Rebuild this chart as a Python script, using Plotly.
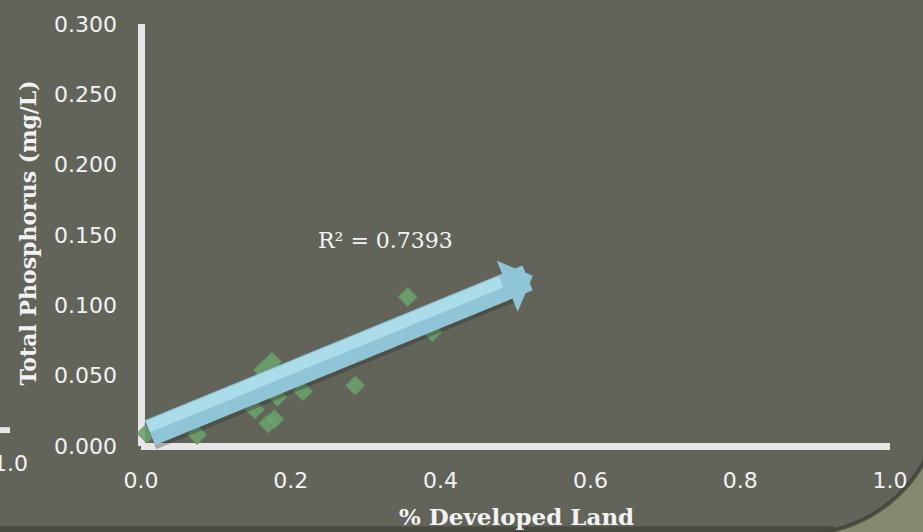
import math
import plotly.graph_objects as go

# ---- data ----
dev_land = [0.008, 0.075, 0.152, 0.163, 0.175, 0.170, 0.178, 0.182, 0.216, 0.286, 0.356, 0.389]
total_p = [0.009, 0.008, 0.026, 0.054, 0.060, 0.016, 0.019, 0.035, 0.039, 0.043, 0.106, 0.081]

trend_x = [0.010, 0.523]
trend_y = [0.009, 0.121]
r2_label = "R² = 0.7393"
r2_pos = [0.327, 0.146]

x_ticks = [0.0, 0.2, 0.4, 0.6, 0.8, 1.0]
y_ticks = [0.0, 0.05, 0.10, 0.15, 0.20, 0.25, 0.30]

x_title = "% Developed Land"
y_title = "Total Phosphorus (mg/L)"

# ---- layout geometry (pixels) ----
W, H = 923, 532
ML, MR, MT, MB = 141, 33, 21, 86
PW, PH = W - ML - MR, H - MT - MB


def px(xp):
    return (xp - ML) / PW


def py(yp):
    return (H - MB - yp) / PH


BG = "#62645A"
TXT = "#F2F2F2"

fig = go.Figure()

fig.add_trace(go.Scatter(
    x=dev_land, y=total_p, mode="markers",
    marker=dict(symbol="diamond", size=15, color="rgba(108,160,108,0.88)",
                line=dict(color="rgba(88,138,92,0.9)", width=1)),
    showlegend=False, hoverinfo="skip", cliponaxis=False,
))

annotations = []
# arrow shadow (shaft only)
annotations.append(dict(
    x=trend_x[1], y=trend_y[1], ax=trend_x[0], ay=trend_y[0],
    xref="x", yref="y", axref="x", ayref="y", text="",
    showarrow=True, arrowhead=0, arrowwidth=27, standoff=26,
    arrowcolor="rgba(35,36,30,0.30)", xshift=1, yshift=-4,
))
# arrow body
annotations.append(dict(
    x=trend_x[1], y=trend_y[1], ax=trend_x[0], ay=trend_y[0],
    xref="x", yref="y", axref="x", ayref="y", text="",
    showarrow=True, arrowhead=1, arrowsize=0.34, arrowwidth=27,
    arrowcolor="#90C5D7",
))
# arrow top highlight
annotations.append(dict(
    x=trend_x[1], y=trend_y[1], ax=trend_x[0], ay=trend_y[0],
    xref="x", yref="y", axref="x", ayref="y", text="",
    showarrow=True, arrowhead=0, arrowwidth=12, standoff=32,
    arrowcolor="#ABDCEA", xshift=-2, yshift=6,
))
# R^2 label
annotations.append(dict(
    x=r2_pos[0], y=r2_pos[1], xref="x", yref="y", text=r2_label,
    showarrow=False, font=dict(family="DejaVu Serif", size=22, color=TXT),
))
# axis titles
annotations.append(dict(
    x=px(28), y=py(232), xref="paper", yref="paper", text="<b>" + y_title + "</b>",
    textangle=-90, showarrow=False, xanchor="center", yanchor="middle",
    font=dict(family="DejaVu Serif", size=22, color=TXT),
))
annotations.append(dict(
    x=px(516), y=py(517), xref="paper", yref="paper", text="<b>" + x_title + "</b>",
    showarrow=False, xanchor="center", yanchor="middle",
    font=dict(family="DejaVu Serif", size=23, color=TXT),
))
# stray label at left edge (from slide behind)
annotations.append(dict(
    x=px(30), y=py(464), xref="paper", yref="paper", text="1.0",
    showarrow=False, xanchor="right", yanchor="middle",
    font=dict(family="DejaVu Sans", size=22, color=TXT),
))

shapes = []
# lighter slide corner at bottom right
cx, cy, r = 800, 393, 142
pts = []
for k in range(0, 31):
    t = math.radians(22 + k * 2.2)
    pts.append((cx + r * math.cos(t), cy + r * math.sin(t)))
path = "M %f,%f " % (px(pts[0][0]), py(pts[0][1]))
for (a, b) in pts[1:]:
    path += "L %f,%f " % (px(a), py(b))
path += "L %f,%f L %f,%f Z" % (px(960), py(560), px(960), py(400))
shapes.append(dict(type="path", path=path, xref="paper", yref="paper",
                   fillcolor="#868970", line=dict(color="rgba(55,57,48,0.7)", width=4),
                   layer="below"))
# dark band at bottom edge
shapes.append(dict(type="rect", xref="paper", yref="paper",
                   x0=px(-5), x1=px(835), y0=py(540), y1=py(527),
                   fillcolor="rgba(70,72,62,0.9)", line=dict(width=0), layer="below"))
# stray tick mark at left edge
shapes.append(dict(type="rect", xref="paper", yref="paper",
                   x0=px(-2), x1=px(10), y0=py(433), y1=py(427),
                   fillcolor="#E6E6E6", line=dict(width=0), layer="below"))

fig.update_layout(
    width=W, height=H,
    margin=dict(l=ML, r=MR, t=MT, b=MB),
    paper_bgcolor=BG, plot_bgcolor=BG,
    showlegend=False,
    annotations=annotations,
    shapes=shapes,
    xaxis=dict(range=[0, 1], tickvals=x_ticks, tickformat=".1f",
               showgrid=False, showline=False, ticks="",
               zeroline=True, zerolinecolor="#E6E6E6", zerolinewidth=7,
               tickfont=dict(family="DejaVu Sans", size=22, color=TXT),
               ticklabelstandoff=19, fixedrange=True),
    yaxis=dict(range=[0, 0.3], tickvals=y_ticks, tickformat=".3f",
               showgrid=False, showline=False, ticks="",
               zeroline=True, zerolinecolor="#E6E6E6", zerolinewidth=7,
               tickfont=dict(family="DejaVu Sans", size=22, color=TXT),
               ticklabelstandoff=23, fixedrange=True),
)

fig.write_html("out.html")
